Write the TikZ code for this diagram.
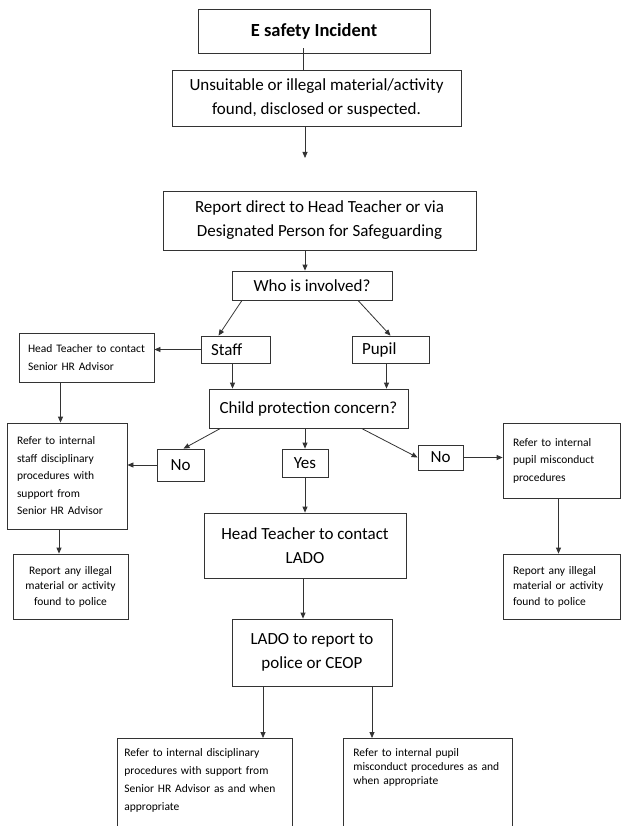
\documentclass[tikz,border=0pt]{standalone}
\usepackage{fontspec}
\setmainfont{Carlito}
\usepackage{tikz}
\usetikzlibrary{arrows.meta}
\definecolor{lineGrey}{HTML}{333333}
\newcommand{\bigtext}{\fontsize{17}{24}\selectfont}
\newcommand{\smalltext}{\fontsize{11.5}{17.5}\selectfont}

\begin{document}
\begin{tikzpicture}[
    x=1pt, y=-1pt,
    mainbox/.style={draw=lineGrey, line width=0.8pt, align=center, font=\bigtext, inner sep=2pt},
    notebox/.style={draw=lineGrey, line width=0.8pt, align=left, font=\smalltext, inner xsep=#1, inner ysep=2pt},
    arrow/.style={-{Triangle[length=6pt, width=5pt]}, line width=0.8pt, lineGrey},
    link/.style={line width=0.8pt, lineGrey},
  ]
  \path[use as bounding box, fill=white] (0,0) rectangle (621,826);
  \clip (0,0) rectangle (621,826);

  % Incident and report
  \node[mainbox, minimum width=232pt, minimum height=44pt, font=\fontsize{18.5}{24}\selectfont\bfseries] (incident) at (314,31) {E safety Incident};
  \node[mainbox, minimum width=289pt, minimum height=56pt] (found) at (316.5,98) {Unsuitable or illegal material/activity\\found, disclosed or suspected.};
  \coordinate (gap) at (305,158);
  \node[mainbox, minimum width=313pt, minimum height=59pt] (report) at (319.5,220.5) {Report direct to Head Teacher or via\\Designated Person for Safeguarding};
  \node[mainbox, minimum width=160pt, minimum height=29pt] (who) at (312,285.5) {Who is involved?};

  % Staff or pupil
  \node[mainbox, minimum width=69pt, minimum height=27pt, text width=49pt, align=left] (staff) at (235.5,349.5) {Staff};
  \node[mainbox, minimum width=77pt, minimum height=27pt, text width=57pt, align=left] (pupil) at (390.5,349.5) {Pupil};
  \node[notebox=9pt, minimum width=135pt, text width=117pt, minimum height=49pt] (hr) at (86.5,357.5) {Head Teacher to contact\\Senior HR Advisor};
  \node[mainbox, minimum width=199pt, minimum height=39pt] (child) at (308.5,408.5) {Child protection concern?};

  % Answers
  \node[mainbox, minimum width=47pt, minimum height=32pt] (noL) at (180.5,465) {No};
  \node[mainbox, minimum width=46pt, minimum height=28pt] (yes) at (305,463) {Yes};
  \node[mainbox, minimum width=45pt, minimum height=25pt] (noR) at (440.5,457.5) {No};
  \node[notebox=10pt, minimum width=120pt, text width=100pt, minimum height=106pt] (staffproc) at (67,476) {Refer to internal\\staff disciplinary\\procedures with\\support from\\Senior HR Advisor};
  \node[notebox=10pt, minimum width=117pt, text width=97pt, minimum height=75pt] (pupilproc) at (561.5,460.5) {Refer to internal\\pupil misconduct\\procedures};

  % Police and LADO
  \node[mainbox, minimum width=202pt, minimum height=65pt] (htlado) at (305,545.5) {Head Teacher to contact\\LADO};
  \node[notebox=2pt, align=center, minimum width=115pt, text width=111pt, minimum height=65pt, font=\fontsize{11.5}{15.5}\selectfont] (policeL) at (70.5,586.5) {Report any illegal\\material or activity\\found to police};
  \node[notebox=10pt, minimum width=117pt, text width=97pt, minimum height=65pt, font=\fontsize{11.5}{15.5}\selectfont] (policeR) at (561.5,586.5) {Report any illegal\\material or activity\\found to police};
  \node[mainbox, minimum width=160pt, minimum height=67pt] (ladopol) at (312,652.5) {LADO to report to\\police or CEOP};

  % Bottom boxes run off the page
  \node[notebox=7pt, anchor=north west, text width=161pt, inner ysep=0pt, text height=18pt, text depth=110pt, font=\fontsize{11.5}{18}\selectfont] (finalL) at (117,738) {Refer to internal disciplinary\\procedures with support from\\Senior HR Advisor as and when\\appropriate};
  \node[notebox=10pt, anchor=north west, text width=149pt, inner ysep=0pt, text height=18pt, text depth=110pt, font=\fontsize{11.5}{14}\selectfont] (finalR) at (343,738) {Refer to internal pupil\\misconduct procedures as and\\when appropriate};

  % Connectors
  \draw[link] ([xshift=-11pt, yshift=5pt]incident.south) -- ([xshift=-11pt]incident.south |- found.north);
  \draw[arrow] (found.south -| gap) -- (gap);
  \draw[arrow] (report.south -| gap) -- (who.north -| gap);
  \draw[arrow] ([xshift=-70pt]who.south) -- ([xshift=-17pt]staff.north);
  \draw[arrow] ([xshift=46pt]who.south) -- (pupil.north);
  \draw[arrow] (staff.west) -- (staff.west -| hr.east);
  \draw[arrow] ([xshift=-3pt]staff.south) -- ([xshift=-3pt]staff.south |- child.north);
  \draw[arrow] ([xshift=-4pt]pupil.south) -- ([xshift=-4pt]pupil.south |- child.north);
  \draw[arrow] ([xshift=-26pt]hr.south) -- ([xshift=-26pt]hr.south |- staffproc.north);
  \draw[arrow] ([xshift=-88pt]child.south) -- ([xshift=3pt]noL.north);
  \draw[arrow] (child.south -| yes.north) -- (yes.north);
  \draw[arrow] ([xshift=53pt]child.south) -- (noR.west);
  \draw[arrow] (noL.west) -- (noL.west -| staffproc.east);
  \draw[arrow] (noR.east) -- (noR.east -| pupilproc.west);
  \draw[arrow] (yes.south) -- (htlado.north);
  \draw[arrow] ([xshift=-8pt]staffproc.south) -- ([xshift=-8pt]staffproc.south |- policeL.north);
  \draw[arrow] ([xshift=-3pt]pupilproc.south) -- ([xshift=-3pt]pupilproc.south |- policeR.north);
  \draw[arrow] ([xshift=-2pt]htlado.south) -- ([xshift=-2pt]htlado.south |- ladopol.north);
  \draw[arrow] ([xshift=-49pt]ladopol.south) -- ([xshift=-49pt]ladopol.south |- finalL.north);
  \draw[arrow] ([xshift=60pt]ladopol.south) -- ([xshift=60pt]ladopol.south |- finalR.north);
\end{tikzpicture}
\end{document}
